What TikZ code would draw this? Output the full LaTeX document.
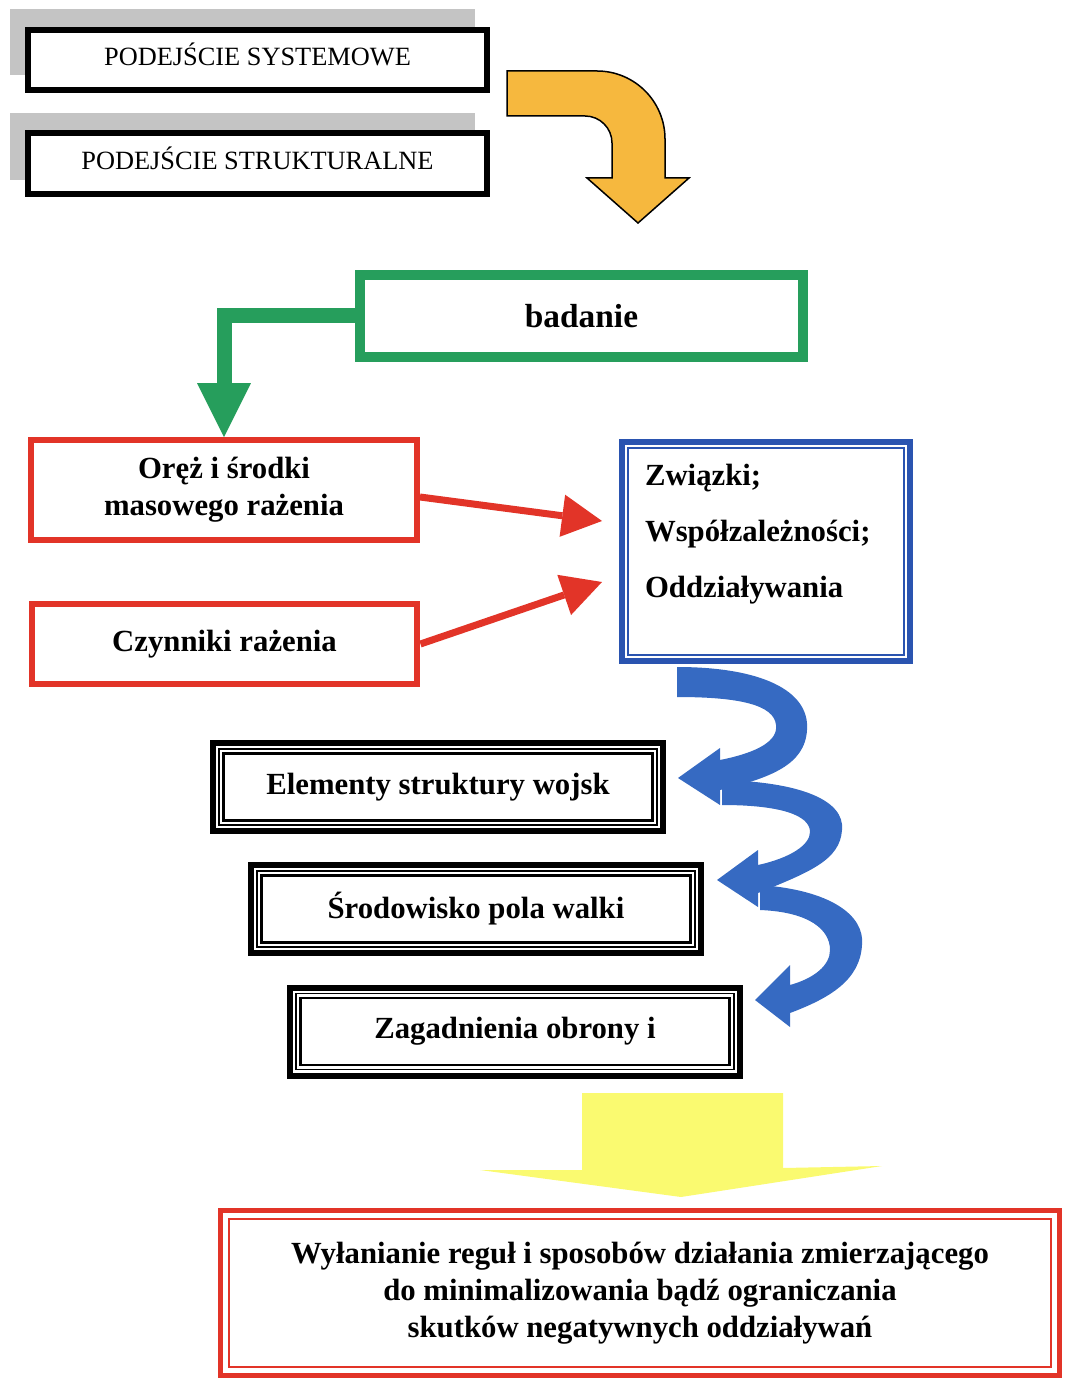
\documentclass[tikz,border=0pt]{standalone}
\usepackage{fontspec}
\setmainfont{Liberation Serif}
\usetikzlibrary{arrows.meta,backgrounds}

\definecolor{shadowgray}{RGB}{196,196,196}
\definecolor{orangefill}{RGB}{246,184,62}
\definecolor{badgreen}{RGB}{38,158,92}
\definecolor{boxred}{RGB}{226,52,40}
\definecolor{boxblue}{RGB}{42,84,176}
\definecolor{curlblue}{RGB}{54,106,194}
\definecolor{arrowyellow}{RGB}{250,250,112}

\begin{document}
\begin{tikzpicture}[x=0.02cm,y=-0.02cm]
\tikzstyle{every node}+=[inner sep=0pt, align=center, font=\fontsize{17.5}{21}\selectfont\bfseries]
\tikzstyle{topbox}=[draw=black, fill=white, line width=0.12cm, minimum width=9.18cm, minimum height=1.2cm,
  text height=9.9pt, text depth=3.4pt, font=\fontsize{15}{18}\selectfont]
\tikzstyle{redbox}=[draw=boxred, line width=0.12cm, minimum width=7.72cm]
\tikzstyle{tribox}=[draw=black, line width=0.12cm, minimum width=9cm, minimum height=1.76cm]
\tikzstyle{redarrow}=[draw=boxred, line width=0.14cm, -{Triangle[width=0.85cm,length=0.8cm,line width=0pt]}]
\useasboundingbox (0,0) rectangle (1064,1381);
% approaches
\node[topbox] (sys) at (257.5,60) {PODEJŚCIE SYSTEMOWE};
\node[topbox, minimum height=1.22cm] (str) at (257.5,163.5) {PODEJŚCIE STRUKTURALNE};
\begin{scope}[on background layer]
\fill[shadowgray] ([shift={(-15,-18)}]sys.north west) rectangle ([shift={(-15,-18)}]sys.south east);
\fill[shadowgray] ([shift={(-15,-17)}]str.north west) rectangle ([shift={(-15,-17)}]str.south east);
\end{scope}
% bent orange arrow
\draw[fill=orangefill, line width=0.03cm] (507,71) -- (597,71) arc[start angle=-90, end angle=0, radius=68]
  -- (665,178) -- (689,178) -- (638,223) -- (587,178) -- (612,178) -- (612,143)
  arc[start angle=0, end angle=-90, radius=27] -- (507,116) -- cycle;
% study
\node[draw=badgreen, line width=0.2cm, minimum width=8.86cm, minimum height=1.64cm,
  font=\fontsize{19}{22}\selectfont\bfseries] (badanie) at (581.5,316) {badanie};
\node[redbox, minimum height=2cm] (orez) at (224,490) {Oręż i środki\\masowego rażenia};
\node[redbox, minimum height=1.6cm] (czyn) at (224.5,644) {Czynniki rażenia};
\draw[badgreen, line width=0.3cm, -{Triangle[width=1.08cm,length=1.08cm,line width=0pt]}] (badanie.west) -| (orez.north);
% relations
\node[draw=boxblue, line width=0.12cm, minimum width=5.78cm, minimum height=4.4cm, align=left] (zwiazki) at (766,551.5)
  {\parbox[c][3.5cm][t]{4.84cm}{\raggedright\fontsize{17.5}{31.9}\selectfont\bfseries Związki;\\Współzależności;\\Oddziaływania}};
\draw[boxblue, line width=0.05cm] ([shift={(9.5,9.5)}]zwiazki.north west) rectangle ([shift={(-9.5,-9.5)}]zwiazki.south east);
\coordinate (z1) at (602,521);
\coordinate (z2) at (602,582);
\draw[redarrow] ([yshift=-0.14cm]orez.east) -- (z1);
\draw[redarrow] (czyn.east) -- (z2);
% areas
\node[tribox] (elem) at (438,787) {Elementy struktury wojsk};
\node[tribox] (srod) at (476,909) {Środowisko pola walki};
\node[tribox] (zagad) at (515,1031.5) {Zagadnienia obrony i};
\foreach \n in {elem,srod,zagad}{
  \draw[line width=0.03cm] ([shift={(9,9)}]\n.north west) rectangle ([shift={(-9,-9)}]\n.south east);
  \draw[line width=0.05cm] ([shift={(13.5,13.5)}]\n.north west) rectangle ([shift={(-13.5,-13.5)}]\n.south east);
}
% curled blue arrows
\fill[curlblue] (760,885) .. controls (830,890) and (865,915) .. (862,945) .. controls (860,980) and (830,998) .. (790,1013)
  -- (790,1027) -- (755,1000) -- (790,965) -- (790,985)
  .. controls (815,978) and (830,965) .. (830,950) .. controls (830,930) and (810,912) .. (760,910) -- cycle;
\fill[curlblue] (722,780) .. controls (800,782) and (845,800) .. (842,830) .. controls (840,860) and (810,872) .. (758,893)
  -- (758,907) -- (717,880) -- (758,850) -- (758,865)
  .. controls (790,858) and (810,845) .. (810,832) .. controls (810,815) and (780,805) .. (722,805) -- cycle;
\fill[curlblue] (677,667) .. controls (760,667) and (810,690) .. (807,730) .. controls (805,765) and (770,778) .. (720,790)
  -- (720,805) -- (678,778) -- (720,748) -- (720,760)
  .. controls (760,752) and (778,740) .. (776,725) .. controls (774,705) and (740,697) .. (677,697) -- cycle;
% result
\fill[arrowyellow] (582,1093) -- (783,1093) -- (783,1168) -- (882,1166) -- (681,1197) -- (480,1170) -- (582,1170) -- cycle;
\node[draw=boxred, line width=0.1cm, minimum width=16.78cm, minimum height=3.3cm] (wylan) at (640,1293)
  {Wyłanianie reguł i sposobów działania zmierzającego\\do minimalizowania bądź ograniczania\\skutków negatywnych oddziaływań};
\draw[boxred, line width=0.04cm] ([shift={(11,11)}]wylan.north west) rectangle ([shift={(-11,-11)}]wylan.south east);
\end{tikzpicture}
\end{document}
